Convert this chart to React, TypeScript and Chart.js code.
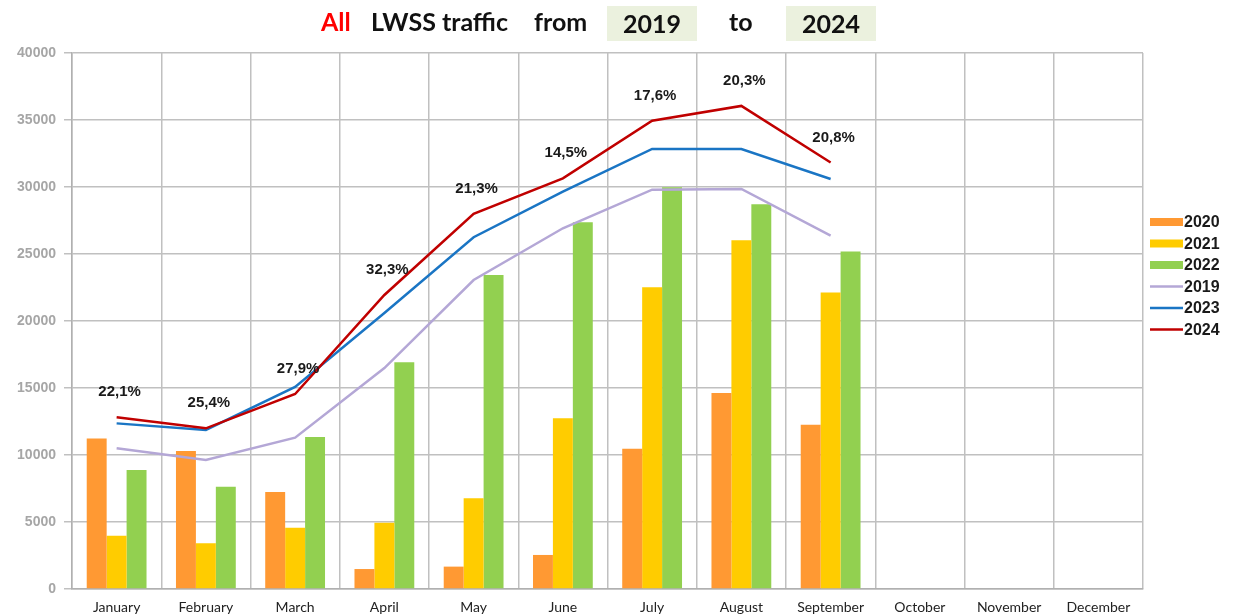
import React, { useEffect, useRef } from "react";
import { Chart, registerables } from "chart.js";
Chart.register(...registerables);

const months = ["January", "February", "March", "April", "May", "June", "July", "August", "September", "October", "November", "December"];
const v2020 = [11240, 10300, 7240, 1490, 1670, 2540, 10470, 14630, 12260, null, null, null];
const v2021 = [3980, 3410, 4580, 4950, 6770, 12740, 22520, 26030, 22130, null, null, null];
const v2022 = [8880, 7630, 11340, 16920, 23430, 27370, 29990, 28720, 25190, null, null, null];
const v2019 = [10500, 9630, 11290, 16490, 23060, 26920, 29800, 29850, 26370, null, null, null];
const v2023 = [12360, 11870, 15080, 20600, 26250, 29650, 32840, 32840, 30600, null, null, null];
const v2024 = [12810, 11990, 14550, 21940, 27990, 30650, 34940, 36050, 31830, null, null, null];
const pctLabels = ["22,1%", "25,4%", "27,9%", "32,3%", "21,3%", "14,5%", "17,6%", "20,3%", "20,8%"];

const colors = {
  c2020: "#ff9933",
  c2021: "#ffcc00",
  c2022: "#92d050",
  c2019: "#b4a7d6",
  c2023: "#1a75c4",
  c2024: "#c00000",
};

const pctPlugin = {
  id: "pctLabels",
  afterDatasetsDraw(chart: any) {
    const idx = chart.data.datasets.findIndex((d: any) => d.label === "2024");
    const meta = chart.getDatasetMeta(idx);
    const ctx = chart.ctx;
    ctx.save();
    ctx.font = "bold 15px 'Liberation Sans', Arial, sans-serif";
    ctx.fillStyle = "#1a1a1a";
    ctx.textAlign = "center";
    ctx.textBaseline = "middle";
    pctLabels.forEach((t, i) => {
      const p = meta.data[i];
      if (!p) return;
      ctx.fillText(t, p.x + 3, p.y - 25);
    });
    ctx.restore();
  },
};

const legendPlugin = {
  id: "customLegend",
  afterDraw(chart: any) {
    const ctx = chart.ctx;
    const ca = chart.chartArea;
    const order = ["2020", "2021", "2022", "2019", "2023", "2024"];
    const x = ca.right + 7;
    let y = ca.top + 169;
    ctx.save();
    ctx.font = "bold 16px 'Liberation Sans', Arial, sans-serif";
    ctx.textBaseline = "middle";
    ctx.textAlign = "left";
    order.forEach((lab) => {
      const ds = chart.data.datasets.find((d: any) => d.label === lab);
      if (ds.type === "line") {
        ctx.strokeStyle = ds.borderColor;
        ctx.lineWidth = 2.5;
        ctx.beginPath();
        ctx.moveTo(x, y);
        ctx.lineTo(x + 33, y);
        ctx.stroke();
      } else {
        ctx.fillStyle = ds.backgroundColor;
        ctx.fillRect(x, y - 4, 33, 8);
      }
      ctx.fillStyle = "#1a1a1a";
      ctx.fillText(lab, x + 34, y + 1);
      y += 21.5;
    });
    ctx.restore();
  },
};

export default function App() {
  const ref = useRef<HTMLCanvasElement>(null);
  useEffect(() => {
    document.body.style.margin = "0";
    const chart = new Chart(ref.current as HTMLCanvasElement, {
      type: "bar",
      data: {
        labels: months,
        datasets: [
          { type: "bar", label: "2020", data: v2020, backgroundColor: colors.c2020, order: 2 },
          { type: "bar", label: "2021", data: v2021, backgroundColor: colors.c2021, order: 2 },
          { type: "bar", label: "2022", data: v2022, backgroundColor: colors.c2022, order: 2 },
          { type: "line", label: "2019", data: v2019, borderColor: colors.c2019, backgroundColor: colors.c2019, borderWidth: 2.5, pointRadius: 0, tension: 0, order: 1 },
          { type: "line", label: "2023", data: v2023, borderColor: colors.c2023, backgroundColor: colors.c2023, borderWidth: 2.5, pointRadius: 0, tension: 0, order: 1 },
          { type: "line", label: "2024", data: v2024, borderColor: colors.c2024, backgroundColor: colors.c2024, borderWidth: 2.5, pointRadius: 0, tension: 0, order: 0 },
        ] as any,
      },
      options: {
        animation: false,
        responsive: false,
        maintainAspectRatio: false,
        layout: { padding: { top: 53, right: 90, left: 0, bottom: 0 } },
        datasets: { bar: { categoryPercentage: 0.67, barPercentage: 1 } } as any,
        plugins: { legend: { display: false }, tooltip: { enabled: false }, title: { display: false } },
        scales: {
          x: {
            grid: { color: "#c0c0c0", lineWidth: 1.5, drawTicks: false, offset: true },
            border: { color: "#b0b0b0", width: 1.5 },
            ticks: { color: "#222", font: { family: "Lato, 'Open Sans', sans-serif", size: 14 }, padding: 10, maxRotation: 0, autoSkip: false },
            afterFit: (s: any) => { s.height = 26; },
          },
          y: {
            min: 0,
            max: 40000,
            ticks: {
              stepSize: 5000,
              color: "#a6a6a6",
              font: { family: "'Liberation Sans', Arial, sans-serif", size: 14, weight: "bold" },
              padding: 8,
              callback: (v: any) => String(v),
            },
            grid: { color: "#c0c0c0", lineWidth: 1.5, tickLength: 8 },
            border: { color: "#b0b0b0", width: 1.5 },
            afterFit: (s: any) => { s.width = 72; },
          },
        },
      },
      plugins: [pctPlugin, legendPlugin],
    });
    return () => chart.destroy();
  }, []);

  const tf = "Lato, 'Open Sans', sans-serif";
  const base: React.CSSProperties = { position: "absolute", top: 0, height: 42, lineHeight: "42px", fontFamily: tf, fontWeight: 700, fontSize: 25, color: "#111", whiteSpace: "nowrap" };
  return (
    <div style={{ position: "fixed", left: 0, top: 0, width: 1233, height: 615, background: "#fff", overflow: "hidden" }}>
      <canvas ref={ref} width={1233} height={615} style={{ position: "absolute", left: 0, top: 0, width: 1233, height: 615 }} />
      <span style={{ ...base, left: 321, color: "#ff0000" }}>All</span>
      <span style={{ ...base, left: 371 }}>LWSS traffic</span>
      <span style={{ ...base, left: 534 }}>from</span>
      <span style={{ ...base, left: 607, top: 6, height: 35, lineHeight: "35px", width: 90, background: "#ebf1de", textAlign: "center" }}>2019</span>
      <span style={{ ...base, left: 729 }}>to</span>
      <span style={{ ...base, left: 786, top: 6, height: 35, lineHeight: "35px", width: 90, background: "#ebf1de", textAlign: "center" }}>2024</span>
    </div>
  );
}
